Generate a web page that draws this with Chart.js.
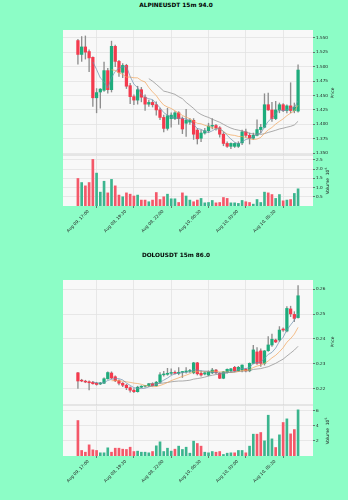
<!DOCTYPE html>
<html>
<head>
<meta charset="utf-8">
<script src="https://cdn.jsdelivr.net/npm/chart.js@4/dist/chart.umd.min.js"></script>
<style>
  body { margin: 0; background: #8cfdc6; font-family: "DejaVu Sans", sans-serif; }
  #page { position: relative; width: 348px; height: 500px; overflow: hidden; }
  canvas { position: absolute; left: 0; }
  .title { position: absolute; left: 0; width: 348px; text-align: center; font-weight: bold; font-size: 5.8px; line-height: 6px; color: #000; padding-left: 2px; }
  .vlab { position: absolute; transform: translate(-50%, -50%) rotate(-90deg); font-size: 4.4px; line-height: 5px; white-space: nowrap; color: #222; }
  .vlab span { font-size: 3px; vertical-align: 1.6px; }
</style>
</head>
<body>
<div id="page">
  <div class="title" style="top:1.7px">ALPINEUSDT 15m 94.0</div>
  <canvas id="alpinePrice" width="348" height="131" style="top:25px"></canvas>
  <canvas id="alpineVol" width="348" height="100" style="top:150px"></canvas>
  <div class="vlab" style="left:331.5px;top:93px">Price</div>
  <div class="vlab" style="left:326.5px;top:180.5px">Volume &nbsp;10<span>6</span></div>

  <div class="title" style="top:251.7px">DOLOUSDT 15m 86.0</div>
  <canvas id="doloPrice" width="348" height="131" style="top:275px"></canvas>
  <canvas id="doloVol" width="348" height="100" style="top:400px"></canvas>
  <div class="vlab" style="left:331.5px;top:342px">Price</div>
  <div class="vlab" style="left:326.5px;top:430.5px">Volume &nbsp;10<span>5</span></div>
</div>
<script>
// 15m candles, index 0 = Aug 09 17:00
const xTickPos = [0, 10, 20, 30, 40, 50, 60];
const xTickLabels = ['Aug 09, 17:00', 'Aug 09, 19:30', 'Aug 09, 22:00', 'Aug 10, 00:30', 'Aug 10, 03:00', 'Aug 10, 05:30', ''];

const alpineOpen = [1.545,1.521,1.534,1.526,1.516,1.446,1.456,1.459,1.493,1.460,1.535,1.509,1.490,1.502,1.467,1.448,1.442,1.460,1.447,1.435,
  1.438,1.434,1.425,1.412,1.393,1.410,1.410,1.420,1.410,1.402,1.404,1.407,1.390,1.376,1.385,1.389,1.397,1.398,1.394,1.383,
  1.367,1.362,1.362,1.362,1.368,1.387,1.381,1.376,1.381,1.391,1.395,1.434,1.425,1.410,1.425,1.434,1.424,1.432,1.424,1.423];
const alpineHigh = [1.547,1.552,1.553,1.529,1.517,1.462,1.462,1.508,1.497,1.544,1.537,1.511,1.505,1.504,1.471,1.451,1.466,1.464,1.451,1.442,
  1.442,1.439,1.428,1.416,1.428,1.420,1.422,1.422,1.413,1.426,1.410,1.410,1.393,1.390,1.393,1.402,1.410,1.400,1.396,1.386,
  1.370,1.368,1.368,1.370,1.390,1.392,1.385,1.385,1.408,1.400,1.453,1.454,1.438,1.440,1.437,1.436,1.434,1.472,1.437,1.503];
const alpineLow = [1.504,1.509,1.513,1.491,1.431,1.420,1.428,1.457,1.454,1.456,1.500,1.483,1.481,1.462,1.436,1.434,1.435,1.439,1.424,1.431,
  1.430,1.416,1.408,1.387,1.390,1.395,1.408,1.400,1.384,1.379,1.400,1.374,1.366,1.370,1.383,1.386,1.392,1.390,1.378,1.363,
  1.360,1.358,1.360,1.360,1.365,1.378,1.366,1.374,1.380,1.385,1.394,1.424,1.405,1.408,1.420,1.422,1.420,1.420,1.420,1.421];
const alpineClose = [1.521,1.534,1.525,1.515,1.446,1.455,1.461,1.493,1.460,1.535,1.509,1.490,1.502,1.466,1.448,1.442,1.460,1.447,1.435,1.438,
  1.434,1.425,1.412,1.393,1.415,1.416,1.420,1.410,1.392,1.407,1.407,1.383,1.375,1.385,1.389,1.397,1.398,1.394,1.383,1.367,
  1.362,1.367,1.367,1.367,1.387,1.381,1.376,1.381,1.391,1.395,1.434,1.425,1.410,1.425,1.434,1.424,1.432,1.424,1.430,1.494];
// volume in units of 10^6
const alpineVolume = [1.49,1.27,1.09,1.27,2.52,1.78,0.75,1.34,0.71,1.44,1.09,0.59,0.50,0.71,0.64,0.54,0.59,0.32,0.32,0.23,
  0.32,0.73,0.35,0.50,0.64,0.39,0.39,0.19,0.71,0.54,0.32,0.23,0.32,0.41,0.17,0.19,0.30,0.17,0.19,0.46,
  0.41,0.17,0.17,0.14,0.30,0.23,0.19,0.10,0.35,0.19,0.75,0.71,0.62,0.41,0.62,0.28,0.32,0.35,0.68,0.93];
const alpinePriceTicks = [1.350,1.375,1.400,1.425,1.450,1.475,1.500,1.525,1.550];
const alpineVolTicks = [0.5,1.0,1.5,2.0,2.5];

const doloOpen = [.2264,.2233,.2230,.2228,.2226,.2222,.2219,.2222,.2240,.2263,.2248,.2232,.2222,.2214,.2204,.2194,.2188,.2206,.2210,.2212,
  .2220,.2212,.2226,.2256,.2258,.2262,.2266,.2262,.2266,.2268,.2270,.2264,.2304,.2262,.2259,.2255,.2264,.2275,.2262,.2242,
  .2266,.2272,.2286,.2272,.2275,.2278,.2272,.2302,.2348,.2352,.2302,.2353,.2376,.2396,.2396,.2440,.2432,.2521,.2499,.2486];
const doloHigh = [.2266,.2238,.2234,.2232,.2230,.2226,.2226,.2244,.2268,.2268,.2252,.2236,.2225,.2218,.2208,.2200,.2210,.2212,.2214,.2222,
  .2224,.2230,.2265,.2270,.2282,.2280,.2272,.2285,.2270,.2285,.2278,.2306,.2306,.2272,.2268,.2272,.2282,.2278,.2265,.2270,
  .2280,.2282,.2290,.2290,.2296,.2282,.2304,.2375,.2365,.2360,.2354,.2410,.2420,.2400,.2450,.2445,.2530,.2532,.2510,.2615];
const doloLow = [.2201,.2228,.2224,.2195,.2218,.2214,.2216,.2220,.2238,.2240,.2228,.2215,.2208,.2196,.2186,.2184,.2186,.2204,.2206,.2208,
  .2210,.2210,.2222,.2250,.2254,.2256,.2258,.2256,.2245,.2262,.2266,.2260,.2255,.2250,.2255,.2252,.2260,.2260,.2240,.2240,
  .2262,.2266,.2268,.2270,.2268,.2268,.2268,.2300,.2298,.2290,.2295,.2350,.2370,.2385,.2390,.2430,.2428,.2490,.2470,.2484];
const doloClose = [.2231,.2231,.2227,.2224,.2220,.2217,.2223,.2240,.2265,.2243,.2232,.2222,.2214,.2204,.2194,.2188,.2206,.2210,.2212,.2220,
  .2212,.2226,.2256,.2258,.2262,.2264,.2262,.2266,.2268,.2270,.2272,.2304,.2260,.2255,.2264,.2268,.2275,.2264,.2242,.2268,
  .2278,.2280,.2272,.2286,.2295,.2272,.2302,.2356,.2302,.2302,.2352,.2376,.2399,.2388,.2436,.2436,.2523,.2501,.2483,.2574];
// volume in units of 10^5
const doloVolume = [4.68,0.73,0.50,1.47,0.81,0.73,0.42,0.42,1.08,0.50,1.03,1.03,0.90,0.86,1.16,0.59,0.64,0.50,0.50,0.42,
  0.59,1.34,1.87,0.59,1.03,0.64,0.90,1.30,0.86,1.16,0.37,1.96,1.65,1.30,0.50,0.42,0.59,0.50,0.59,0.20,
  0.37,0.42,0.42,0.73,0.73,0.42,1.30,2.88,2.88,3.10,2.00,5.38,2.26,1.12,2.79,4.42,4.90,2.92,3.49,6.09];
const doloPriceTicks = [0.22,0.23,0.24,0.25,0.26];
const doloVolTicks = [2,4,6];

const maPeriods = [5, 10, 20];

const UP = '#1eac7c', DOWN = '#f43a4d';
const UP_VOL = '#3bb58e', DOWN_VOL = '#f45869';
const WICK = '#8e8e8e';
const MA_COLORS = ['#6d8fae', '#f0a459', '#8a8a8a'];
const GRID = '#e2e2e2', PLOT_BG = '#f8f8f8', SEPARATOR = '#c8c8c8';
const FONT = { family: 'DejaVu Sans', size: 4.2 };

const plotBg = {
  id: 'plotBg',
  beforeDraw(chart, args, opts) {
    const { ctx, chartArea: a } = chart;
    ctx.save();
    ctx.fillStyle = PLOT_BG;
    ctx.fillRect(a.left, a.top, a.right - a.left, a.bottom - a.top);
    if (opts.topLine) {
      ctx.fillStyle = SEPARATOR;
      ctx.fillRect(a.left, a.top - 0.4, a.right - a.left, 0.8);
    }
    ctx.restore();
  }
};

function sma(values, n) {
  const out = [];
  for (let i = n - 1; i < values.length; i++) {
    let s = 0;
    for (let k = i - n + 1; k <= i; k++) s += values[k];
    out.push({ x: i, y: s / n });
  }
  return out;
}

function xScale(showLabels) {
  return {
    type: 'linear', min: -4, max: 63, offset: false,
    afterBuildTicks: s => { s.ticks = xTickPos.map(v => ({ value: v })); },
    afterFit: s => {
      s.height = showLabels ? 40 : 0;
      s.paddingLeft = s.paddingRight = 0;
    },
    ticks: showLabels ? {
      autoSkip: false, minRotation: 45, maxRotation: 45, labelOffset: 10.5, padding: 1,
      font: FONT, color: '#222',
      callback: (v, i) => xTickLabels[i]
    } : { display: false },
    grid: { color: GRID, lineWidth: 0.8, drawTicks: showLabels, tickLength: 2, tickColor: '#555' },
    border: { display: false }
  };
}

function yScale(min, max, ticks, digits) {
  return {
    position: 'right', min, max,
    afterBuildTicks: s => { s.ticks = ticks.map(v => ({ value: v })); },
    afterFit: s => {
      s.width = 30;
      s.paddingTop = s.paddingBottom = 0;
    },
    ticks: { font: FONT, color: '#222', padding: 1, callback: v => v.toFixed(digits) },
    grid: { color: GRID, lineWidth: 0.8, tickLength: 2, tickColor: '#555' },
    border: { display: false }
  };
}

const baseOptions = {
  responsive: false, animation: false, events: [],
  plugins: { legend: { display: false }, tooltip: { enabled: false } }
};

function priceChart(id, open, high, low, close, yMin, yMax, ticks, digits) {
  const up = close.map((c, i) => c >= open[i]);
  const lines = maPeriods.map((n, k) => ({
    type: 'line', data: sma(close, n), borderColor: MA_COLORS[k], borderWidth: 0.7,
    pointRadius: 0, order: 0
  }));
  new Chart(document.getElementById(id), {
    type: 'bar',
    data: {
      datasets: [
        ...lines,
        {
          data: open.map((o, i) => ({ x: i, y: [o, close[i]] })),
          backgroundColor: up.map(u => u ? UP : DOWN),
          barThickness: 2.6, minBarLength: 0.8, grouped: false, order: 1
        },
        {
          data: low.map((l, i) => ({ x: i, y: [l, high[i]] })),
          backgroundColor: WICK, barThickness: 0.7, grouped: false, order: 2
        }
      ]
    },
    options: {
      ...baseOptions,
      layout: { padding: { left: 63, right: 5, top: 5, bottom: 1 } },
      plugins: { ...baseOptions.plugins, plotBg: { topLine: false } },
      scales: { x: xScale(false), y: yScale(yMin, yMax, ticks, digits) }
    },
    plugins: [plotBg]
  });
}

function volumeChart(id, vol, open, close, yMax, ticks, digits) {
  new Chart(document.getElementById(id), {
    type: 'bar',
    data: {
      datasets: [{
        data: vol.map((v, i) => ({ x: i, y: v })),
        backgroundColor: close.map((c, i) => c >= open[i] ? UP_VOL : DOWN_VOL),
        barThickness: 2.0, grouped: false
      }]
    },
    options: {
      ...baseOptions,
      layout: { padding: { left: 63, right: 5, top: 5, bottom: 4 } },
      plugins: { ...baseOptions.plugins, plotBg: { topLine: true } },
      scales: { x: xScale(true), y: yScale(0, yMax, ticks, digits) }
    },
    plugins: [plotBg]
  });
}

priceChart('alpinePrice', alpineOpen, alpineHigh, alpineLow, alpineClose, 1.3470, 1.5633, alpinePriceTicks, 3);
volumeChart('alpineVol', alpineVolume, alpineOpen, alpineClose, 2.76, alpineVolTicks, 1);
priceChart('doloPrice', doloOpen, doloHigh, doloLow, doloClose, 0.21344, 0.26374, doloPriceTicks, 2);
volumeChart('doloVol', doloVolume, doloOpen, doloClose, 6.73, doloVolTicks, 0);
</script>
</body>
</html>
